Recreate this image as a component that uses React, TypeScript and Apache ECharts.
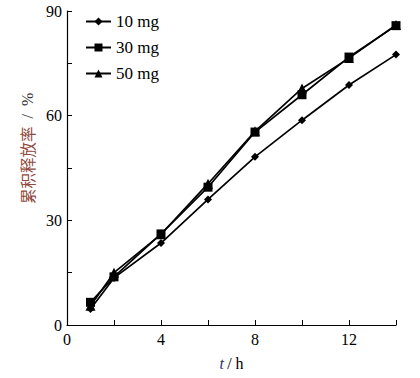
import React, { useEffect, useRef } from "react";
import * as echarts from "echarts";

const times = [1, 2, 4, 6, 8, 10, 12, 14];
const mg10 = [4.6, 13.5, 23.5, 36.0, 48.2, 58.7, 68.8, 77.5];
const mg30 = [6.5, 13.8, 26.1, 39.5, 55.3, 66.0, 76.8, 85.8];
const mg50 = [5.5, 15.0, 26.0, 40.5, 55.5, 67.8, 76.5, 86.0];
const seriesNames = ["10 mg", "30 mg", "50 mg"];
const symbols = ["diamond", "rect", "triangle"];
const symbolSizes = [8, 9, 10];

const FONT = "Liberation Serif";

export default function App() {
  const ref = useRef<HTMLDivElement>(null);
  useEffect(() => {
    if (!ref.current) return;
    const chart = echarts.init(ref.current, null, { renderer: "svg" });
    const datasets = [mg10, mg30, mg50];
    chart.setOption({
      animation: false,
      backgroundColor: "#ffffff",
      grid: { left: 67, right: 24, top: 11, bottom: 53 },
      legend: {
        orient: "vertical",
        left: 80,
        top: 8,
        itemGap: 9,
        itemWidth: 25,
        itemHeight: 10,
        textStyle: { fontFamily: FONT, fontSize: 17, color: "#000" },
        data: seriesNames,
      },
      xAxis: {
        type: "value",
        min: 0,
        max: 14,
        interval: 2,
        splitLine: { show: false },
        axisLine: { lineStyle: { color: "#000", width: 1.2 } },
        axisTick: { inside: true, length: 5, lineStyle: { color: "#000" } },
        axisLabel: {
          fontFamily: FONT,
          fontSize: 16,
          color: "#000",
          margin: 6,
          formatter: (v: number) => (v % 4 === 0 ? String(v) : ""),
        },
        name: "{t|t} {s|/ h}",
        nameLocation: "middle",
        nameGap: 30,
        nameTextStyle: {
          rich: {
            t: { fontFamily: FONT, fontSize: 16, fontStyle: "italic", color: "#2a3566" },
            s: { fontFamily: FONT, fontSize: 16, color: "#000" },
          },
        },
      },
      yAxis: {
        type: "value",
        min: 0,
        max: 90,
        interval: 15,
        splitLine: { show: false },
        axisLine: { show: true, lineStyle: { color: "#000", width: 1.2 } },
        axisTick: { show: true, inside: true, length: 5, lineStyle: { color: "#000" } },
        axisLabel: {
          fontFamily: FONT,
          fontSize: 16,
          color: "#000",
          margin: 5,
          formatter: (v: number) => (v % 30 === 0 ? String(v) : ""),
        },
      },
      graphic: [
        {
          type: "text",
          x: 27,
          y: 204,
          rotation: Math.PI / 2,
          style: {
            text: "{a|累积释放率}{b|  /  %}",
            rich: {
              a: { fontFamily: "Noto Sans CJK SC", fontSize: 15.5, fill: "#8f4a3c" },
              b: { fontFamily: FONT, fontSize: 16, fill: "#333" },
            },
            verticalAlign: "middle",
          },
        },
      ],
      series: datasets.map((d, i) => ({
        name: seriesNames[i],
        type: "line",
        data: times.map((t, j) => [t, d[j]]),
        symbol: symbols[i],
        symbolSize: symbolSizes[i],
        showAllSymbol: true,
        itemStyle: { color: "#000" },
        lineStyle: { color: "#000", width: 1.7 },
      })),
    });
    return () => chart.dispose();
  }, []);
  return (
    <div
      ref={ref}
      style={{ position: "absolute", left: 0, top: 0, width: 420, height: 378 }}
    />
  );
}
